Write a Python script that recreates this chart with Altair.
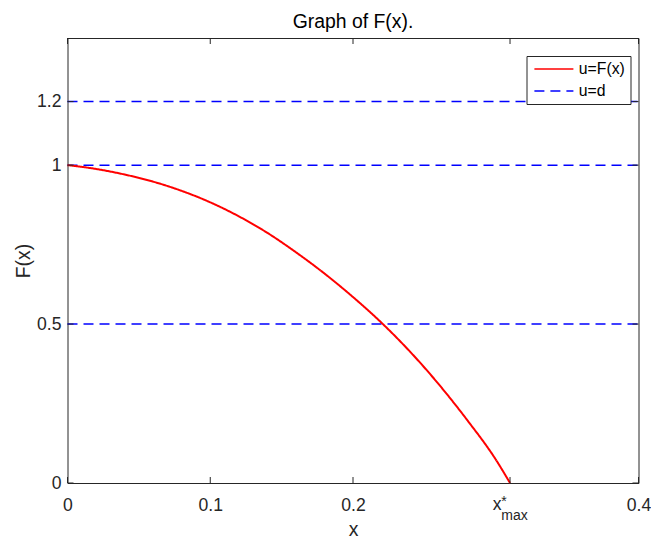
import altair as alt
import pandas as pd

# ---- data ----
title_text = "Graph of F(x)."
curve_x = [0.0, 0.02, 0.04, 0.06, 0.08, 0.10, 0.12, 0.14, 0.16, 0.18, 0.20, 0.22, 0.24, 0.26, 0.28, 0.30, 0.31]
curve_y = [1.0, 0.988, 0.9705, 0.948, 0.919, 0.883, 0.839, 0.787, 0.726, 0.659, 0.585, 0.504, 0.413, 0.311, 0.198, 0.074, 0.0]
d_levels = [1.2, 1.0, 0.5]
x_range = [0.0, 0.4]
y_range = [0.0, 1.4]
x_ticks = [0.0, 0.1, 0.2, 0.4]
x_max = 0.31
y_ticks = [0.0, 0.5, 1.0, 1.2]
series = ["u=F(x)", "u=d"]

W, H = 571, 445
FONT = "Liberation Sans"
AX = "#262626"
PL, PT, PR, PB = 59.5, 30, 12.5, 55

curve_df = pd.DataFrame({"x": curve_x, "y": curve_y, "series": series[0], "line": "F"})
d_rows = []
for i, d in enumerate(d_levels):
    for xv in x_range:
        d_rows.append({"x": xv, "y": d, "series": series[1], "line": f"d{i}"})
d_df = pd.DataFrame(d_rows)
xt_df = pd.DataFrame({"x": x_ticks + [x_max]})
yt_df = pd.DataFrame({"y": y_ticks})
xm_df = pd.DataFrame({"x": [x_max]})

xs = alt.Scale(domain=x_range, nice=False, zero=False)
ys = alt.Scale(domain=y_range, nice=False, zero=False)

x_axis = alt.Axis(values=x_ticks, labelExpr="'' + datum.value", title="x", domain=False, ticks=False, grid=False,
                  labelFont=FONT, labelFontSize=17.6, labelColor=AX, labelPadding=13,
                  labelFlush=False, labelOverlap=False,
                  titleFont=FONT, titleFontSize=19.4, titleFontWeight="normal", titleColor=AX,
                  titleX=W / 2, titleY=52, titleBaseline="alphabetic", titleAlign="center")
y_axis = alt.Axis(values=y_ticks, labelExpr="'' + datum.value", title="F(x)", domain=False, ticks=False, grid=False,
                  labelFont=FONT, labelFontSize=17.6, labelColor=AX, labelPadding=6.5,
                  labelOverlap=False,
                  titleFont=FONT, titleFontSize=19.4, titleFontWeight="normal", titleColor=AX,
                  titleAngle=270, titleX=-38.5, titleY=H / 2, titleBaseline="alphabetic",
                  titleAlign="center")

X = alt.X("x:Q", scale=xs, axis=x_axis)
Y = alt.Y("y:Q", scale=ys, axis=y_axis)

leg = alt.Legend(title=None, orient="none", legendX=459, legendY=18, direction="vertical",
                 symbolType="M-3.9,0H3.9", symbolSize=100, symbolStrokeWidth=1.5, symbolOffset=14.5,
                 labelFont=FONT, labelFontSize=15.8, labelColor="black", labelOffset=17,
                 padding=5, rowPadding=5, strokeColor=AX, fillColor="white", cornerRadius=0)
color = alt.Color("series:N", scale=alt.Scale(domain=series, range=["#ff0000", "#0000ff"]), legend=leg)
dash = alt.StrokeDash("series:N", scale=alt.Scale(domain=series, range=[[1, 0], [10, 6]]), legend=leg)

dlines = alt.Chart(d_df).mark_line(strokeWidth=1.5).encode(x=X, y=Y, color=color, strokeDash=dash, detail="line:N")
curve = alt.Chart(curve_df).mark_line(strokeWidth=2, interpolate="monotone").encode(
    x=X, y=Y, color=color, strokeDash=dash, detail="line:N")

tick_style = dict(color=AX, strokeWidth=1)
bottom_ticks = alt.Chart(xt_df).mark_rule(**tick_style).encode(x=X, y=alt.value(H), y2=alt.value(H - 6))
top_ticks = alt.Chart(xt_df).mark_rule(**tick_style).encode(x=X, y=alt.value(0), y2=alt.value(6))
left_ticks = alt.Chart(yt_df).mark_rule(**tick_style).encode(y=Y, x=alt.value(0), x2=alt.value(6))
right_ticks = alt.Chart(yt_df).mark_rule(**tick_style).encode(y=Y, x=alt.value(W - 6), x2=alt.value(W))

xm_x = alt.Chart(xm_df).mark_text(text="x", dx=-13, align="center", baseline="alphabetic",
                                   font=FONT, fontSize=17.6, color=AX).encode(x=X, y=alt.value(H + 27))
xm_star = alt.Chart(xm_df).mark_text(text="*", dx=-8.7, align="left", baseline="alphabetic",
                                      font=FONT, fontSize=14, color=AX).encode(x=X, y=alt.value(H + 23))
xm_sub = alt.Chart(xm_df).mark_text(text="max", dx=-8.7, align="left", baseline="alphabetic",
                                     font=FONT, fontSize=14, color=AX).encode(x=X, y=alt.value(H + 37))

chart = alt.layer(dlines, curve, bottom_ticks, top_ticks, left_ticks, right_ticks,
                  xm_x, xm_star, xm_sub).properties(
    width=W, height=H,
    title=alt.TitleParams(title_text, font=FONT, fontSize=19.4, fontWeight="normal", color="black",
                          anchor="middle", baseline="alphabetic", offset=10, dy=20, frame="group"),
    autosize=alt.AutoSizeParams(type="none"),
    padding={"left": PL, "top": PT, "right": PR, "bottom": PB},
).configure_view(stroke=AX, strokeWidth=1)

chart.save("out.html", embed_options={"renderer": "svg", "actions": False})
